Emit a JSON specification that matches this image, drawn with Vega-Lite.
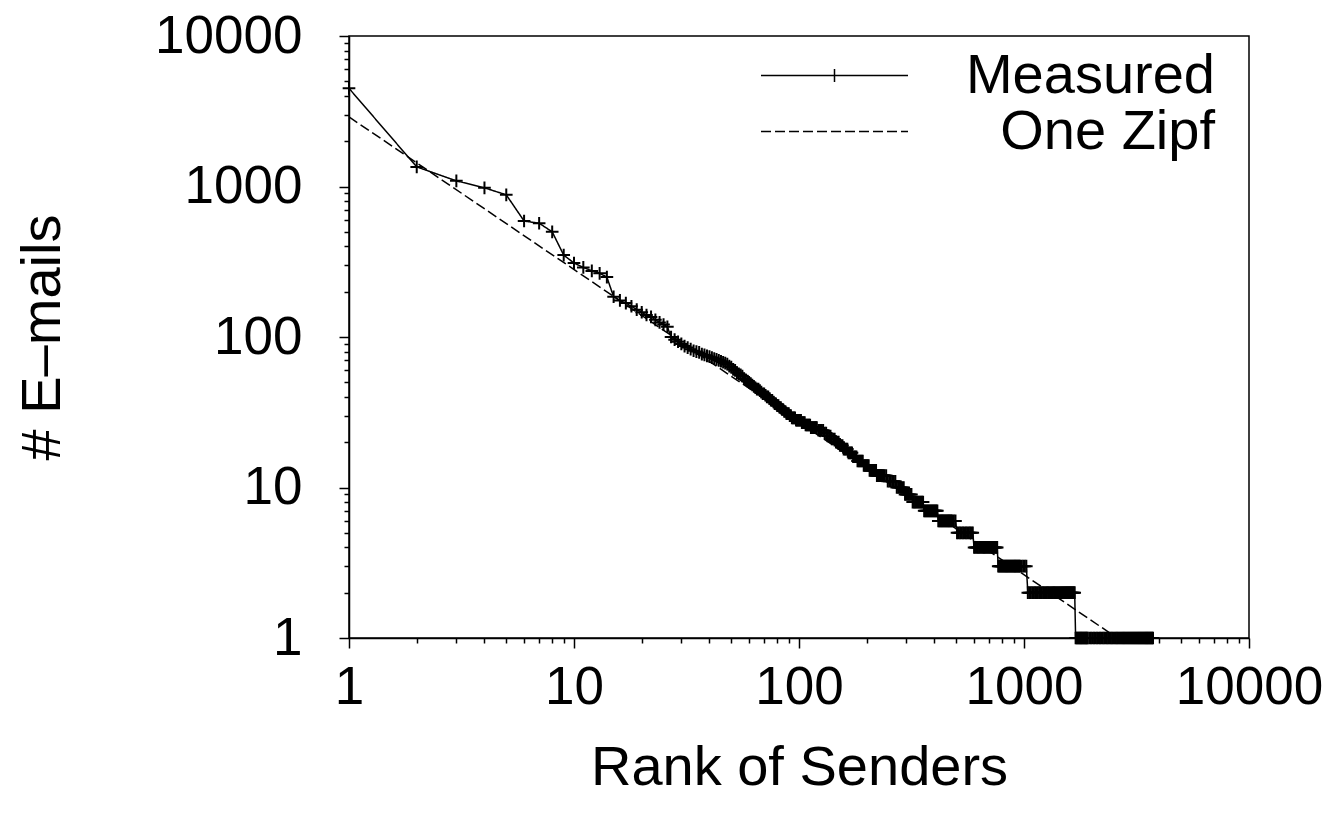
{
 "$schema": "https://vega.github.io/schema/vega-lite/v6.json",
 "width": 900, "height": 602,
 "autosize": "none",
 "padding": {"left": 349, "top": 36, "right": 92, "bottom": 178},
 "background": "white",
 "config": {
   "view": {"stroke": "black", "strokeWidth": 1.5},
   "font": "Liberation Sans",
   "axis": {"grid": false, "domainColor": "black", "domainWidth": 1.5, "tickColor": "black", "tickWidth": 1.5, "labelColor": "black", "labelFont": "Liberation Sans", "labelFontSize": 53, "titleFont": "Liberation Sans", "titleFontSize": 56, "titleFontWeight": "normal", "titleColor": "black", "labelFlush": false, "labelOverlap": false},
   "legend": {"orient": "none", "title": null, "symbolType": "stroke", "symbolSize": 21609, "symbolStrokeWidth": 1.5, "symbolStrokeColor": "black", "labelFontSize": 56, "labelFont": "Liberation Sans", "labelColor": "black", "labelAlign": "right", "labelOffset": 306, "labelLimit": 600, "padding": 0}
 },
 "resolve": {"scale": {"strokeDash": "independent"}, "legend": {"strokeDash": "independent"}},
 "datasets": {
  "zipf": [{"r":1,"v":2900},{"r":4000,"v":0.645}],
  "measured": [
   {"r":1,"v":4490},{"r":2,"v":1350},{"r":3,"v":1090},{"r":4,"v":980},{"r":5,"v":880},{"r":6,"v":590},{"r":7,"v":570},{"r":8,"v":500},{"r":9,"v":350},{"r":10,"v":310},
   {"r":11,"v":290},{"r":12,"v":275},{"r":13,"v":265},{"r":14,"v":250},{"r":15,"v":185},{"r":16,"v":175},{"r":17,"v":168},{"r":18,"v":160},{"r":19,"v":152},{"r":20,"v":146},
   {"r":21,"v":140},{"r":22,"v":136},{"r":23,"v":130},{"r":24,"v":125},{"r":25,"v":121},{"r":26,"v":117},{"r":27,"v":100},{"r":28,"v":96},{"r":29,"v":93},{"r":30,"v":90},
   {"r":31,"v":87},{"r":32,"v":85},{"r":33,"v":83},{"r":34,"v":81},{"r":35,"v":80},{"r":36,"v":79},{"r":37,"v":77},{"r":38,"v":76},{"r":39,"v":75},{"r":40,"v":74},
   {"r":41,"v":73},{"r":42,"v":72},{"r":43,"v":71},{"r":44,"v":70},{"r":45,"v":69},{"r":46,"v":68},{"r":47,"v":67},{"r":48,"v":66},{"r":49,"v":64},{"r":50,"v":63},
   {"r":51,"v":61},{"r":52,"v":60},{"r":53,"v":58},{"r":54,"v":57},{"r":55,"v":56},{"r":56,"v":55},{"r":57,"v":53},{"r":58,"v":52},{"r":59,"v":51},{"r":60,"v":50},
   {"r":61,"v":49},{"r":62,"v":48},{"r":63,"v":47},{"r":64,"v":46},{"r":65,"v":45},{"r":66,"v":45},{"r":67,"v":44},{"r":68,"v":43},{"r":69,"v":42},{"r":70,"v":42},
   {"r":71,"v":41},{"r":72,"v":40},{"r":73,"v":40},{"r":74,"v":39},{"r":75,"v":38},{"r":76,"v":38},{"r":77,"v":37},{"r":78,"v":36},{"r":79,"v":36},{"r":80,"v":35},
   {"r":81,"v":35},{"r":82,"v":34},{"r":83,"v":34},{"r":84,"v":33},{"r":85,"v":33},{"r":86,"v":32},{"r":87,"v":32},{"r":88,"v":31},{"r":89,"v":31},{"r":90,"v":31},
   {"r":91,"v":30},{"r":92,"v":30},{"r":93,"v":29},{"r":94,"v":29},{"r":95,"v":29},{"r":96,"v":29},{"r":97,"v":28},{"r":98,"v":28},{"r":99,"v":28},{"r":100,"v":28},
   {"r":101,"v":28},{"r":102,"v":28},{"r":103,"v":27},{"r":104,"v":27},{"r":105,"v":27},{"r":106,"v":27},{"r":107,"v":26},{"r":108,"v":26},{"r":109,"v":26},{"r":110,"v":26},
   {"r":111,"v":26},{"r":112,"v":26},{"r":113,"v":25},{"r":114,"v":25},{"r":115,"v":25},{"r":116,"v":25},{"r":117,"v":25},{"r":118,"v":25},{"r":119,"v":25},{"r":120,"v":25},
   {"r":122,"v":24},{"r":124,"v":24},{"r":126,"v":24},{"r":128,"v":24},{"r":130,"v":23},{"r":132,"v":23},{"r":134,"v":22},{"r":136,"v":22},{"r":138,"v":22},{"r":140,"v":21},
   {"r":142,"v":21},{"r":144,"v":21},{"r":146,"v":20},{"r":148,"v":20},{"r":150,"v":20},{"r":152,"v":19},{"r":154,"v":19},{"r":156,"v":19},{"r":158,"v":18},{"r":160,"v":18},
   {"r":162,"v":18},{"r":164,"v":18},{"r":166,"v":17},{"r":168,"v":17},{"r":170,"v":17},{"r":172,"v":17},{"r":174,"v":16},{"r":176,"v":16},{"r":178,"v":16},{"r":180,"v":16},
   {"r":182,"v":15},{"r":184,"v":15},{"r":186,"v":15},{"r":188,"v":15},{"r":190,"v":15},{"r":192,"v":15},{"r":194,"v":14},{"r":196,"v":14},{"r":198,"v":14},{"r":200,"v":14},
   {"r":202,"v":14},{"r":204,"v":14},{"r":206,"v":13},{"r":208,"v":13},{"r":210,"v":13},{"r":212,"v":13},{"r":214,"v":13},{"r":216,"v":13},{"r":218,"v":13},{"r":220,"v":13},
   {"r":222,"v":12},{"r":224,"v":12},{"r":226,"v":12},{"r":228,"v":12},{"r":230,"v":12},{"r":232,"v":12},{"r":234,"v":12},{"r":236,"v":12},{"r":238,"v":12},{"r":240,"v":12},
   {"r":244,"v":12},{"r":248,"v":11},{"r":252,"v":11},{"r":256,"v":11},{"r":260,"v":11},{"r":264,"v":11},{"r":268,"v":11},{"r":272,"v":10},{"r":276,"v":10},{"r":280,"v":10},
   {"r":284,"v":10},{"r":288,"v":10},{"r":292,"v":10},{"r":296,"v":9},{"r":300,"v":9},{"r":304,"v":9},{"r":308,"v":9},{"r":312,"v":9},{"r":316,"v":9},{"r":320,"v":8},
   {"r":324,"v":8},{"r":328,"v":8},{"r":332,"v":8},{"r":336,"v":8},{"r":340,"v":8},{"r":344,"v":8},{"r":348,"v":8},{"r":352,"v":8},{"r":356,"v":8},{"r":360,"v":7},
   {"r":364,"v":7},{"r":368,"v":7},{"r":372,"v":7},{"r":376,"v":7},{"r":380,"v":7},{"r":384,"v":7},{"r":388,"v":7},{"r":392,"v":7},{"r":396,"v":7},{"r":400,"v":7},
   {"r":404,"v":7},{"r":408,"v":7},{"r":412,"v":7},{"r":416,"v":6},{"r":420,"v":6},{"r":424,"v":6},{"r":428,"v":6},{"r":432,"v":6},{"r":436,"v":6},{"r":440,"v":6},
   {"r":444,"v":6},{"r":448,"v":6},{"r":452,"v":6},{"r":456,"v":6},{"r":460,"v":6},{"r":464,"v":6},{"r":468,"v":6},{"r":472,"v":6},{"r":476,"v":6},{"r":480,"v":6},
   {"r":488,"v":6},{"r":496,"v":6},{"r":504,"v":5},{"r":512,"v":5},{"r":520,"v":5},{"r":528,"v":5},{"r":536,"v":5},{"r":544,"v":5},{"r":552,"v":5},{"r":560,"v":5},
   {"r":568,"v":5},{"r":576,"v":5},{"r":584,"v":5},{"r":592,"v":5},{"r":600,"v":4},{"r":608,"v":4},{"r":616,"v":4},{"r":624,"v":4},{"r":632,"v":4},{"r":640,"v":4},
   {"r":648,"v":4},{"r":656,"v":4},{"r":664,"v":4},{"r":672,"v":4},{"r":680,"v":4},{"r":688,"v":4},{"r":696,"v":4},{"r":704,"v":4},{"r":712,"v":4},{"r":720,"v":4},
   {"r":728,"v":4},{"r":736,"v":4},{"r":744,"v":4},{"r":752,"v":4},{"r":760,"v":4},{"r":768,"v":3},{"r":776,"v":3},{"r":784,"v":3},{"r":792,"v":3},{"r":800,"v":3},
   {"r":808,"v":3},{"r":816,"v":3},{"r":824,"v":3},{"r":832,"v":3},{"r":840,"v":3},{"r":848,"v":3},{"r":856,"v":3},{"r":864,"v":3},{"r":872,"v":3},{"r":880,"v":3},
   {"r":888,"v":3},{"r":896,"v":3},{"r":904,"v":3},{"r":912,"v":3},{"r":920,"v":3},{"r":928,"v":3},{"r":936,"v":3},{"r":944,"v":3},{"r":952,"v":3},{"r":960,"v":3},
   {"r":976,"v":3},{"r":992,"v":3},{"r":1008,"v":3},{"r":1024,"v":3},{"r":1040,"v":2},{"r":1056,"v":2},{"r":1072,"v":2},{"r":1088,"v":2},{"r":1104,"v":2},{"r":1120,"v":2},
   {"r":1136,"v":2},{"r":1152,"v":2},{"r":1168,"v":2},{"r":1184,"v":2},{"r":1200,"v":2},{"r":1216,"v":2},{"r":1232,"v":2},{"r":1248,"v":2},{"r":1264,"v":2},{"r":1280,"v":2},
   {"r":1296,"v":2},{"r":1312,"v":2},{"r":1328,"v":2},{"r":1344,"v":2},{"r":1360,"v":2},{"r":1376,"v":2},{"r":1392,"v":2},{"r":1408,"v":2},{"r":1424,"v":2},{"r":1440,"v":2},
   {"r":1456,"v":2},{"r":1472,"v":2},{"r":1488,"v":2},{"r":1504,"v":2},{"r":1520,"v":2},{"r":1536,"v":2},{"r":1552,"v":2},{"r":1568,"v":2},{"r":1584,"v":2},{"r":1600,"v":2},
   {"r":1616,"v":2},{"r":1632,"v":2},{"r":1648,"v":2},{"r":1664,"v":2},{"r":1680,"v":2},{"r":1696,"v":1},{"r":1712,"v":1},{"r":1728,"v":1},{"r":1744,"v":1},{"r":1760,"v":1},
   {"r":1776,"v":1},{"r":1792,"v":1},{"r":1808,"v":1},{"r":1824,"v":1},{"r":1840,"v":1},{"r":1856,"v":1},{"r":1872,"v":1},{"r":1888,"v":1},{"r":1904,"v":1},{"r":1920,"v":1},
   {"r":1952,"v":1},{"r":1984,"v":1},{"r":2016,"v":1},{"r":2048,"v":1},{"r":2080,"v":1},{"r":2112,"v":1},{"r":2144,"v":1},{"r":2176,"v":1},{"r":2208,"v":1},{"r":2240,"v":1},
   {"r":2272,"v":1},{"r":2304,"v":1},{"r":2336,"v":1},{"r":2368,"v":1},{"r":2400,"v":1},{"r":2432,"v":1},{"r":2464,"v":1},{"r":2496,"v":1},{"r":2528,"v":1},{"r":2560,"v":1},
   {"r":2592,"v":1},{"r":2624,"v":1},{"r":2656,"v":1},{"r":2688,"v":1},{"r":2720,"v":1},{"r":2752,"v":1},{"r":2784,"v":1},{"r":2816,"v":1},{"r":2848,"v":1},{"r":2880,"v":1},
   {"r":2912,"v":1},{"r":2944,"v":1},{"r":2976,"v":1},{"r":3008,"v":1},{"r":3040,"v":1},{"r":3072,"v":1},{"r":3104,"v":1},{"r":3136,"v":1},{"r":3168,"v":1},{"r":3200,"v":1},
   {"r":3232,"v":1},{"r":3264,"v":1},{"r":3296,"v":1},{"r":3328,"v":1},{"r":3360,"v":1},{"r":3392,"v":1},{"r":3424,"v":1},{"r":3456,"v":1},{"r":3488,"v":1},{"r":3520,"v":1},
   {"r":3552,"v":1},{"r":3584,"v":1},{"r":3616,"v":1},{"r":3648,"v":1},{"r":3680,"v":1},{"r":3712,"v":1},{"r":3744,"v":1}
  ]
 },
 "layer": [
  {
   "data": {"name": "zipf"},
   "mark": {"type": "line", "clip": true, "strokeWidth": 1.5, "color": "black"},
   "encoding": {
     "x": {"field": "r", "type": "quantitative",
       "scale": {"type": "log", "domain": [1, 10000], "nice": false},
       "axis": {"title": "Rank of Senders",
         "values": [1,2,3,4,5,6,7,8,9,10,20,30,40,50,60,70,80,90,100,200,300,400,500,600,700,800,900,1000,2000,3000,4000,5000,6000,7000,8000,9000,10000],
         "labelExpr": "indexof([1,10,100,1000,10000], datum.value) >= 0 ? format(datum.value, 'd') : ''",
         "tickSize": {"condition": {"test": "indexof([1,10,100,1000,10000], datum.value) >= 0", "value": 10}, "value": 5},
         "labelPadding": 13, "titlePadding": 26}},
     "y": {"field": "v", "type": "quantitative",
       "scale": {"type": "log", "domain": [1, 10000], "nice": false},
       "axis": {"title": "# E–mails",
         "values": [1,2,3,4,5,6,7,8,9,10,20,30,40,50,60,70,80,90,100,200,300,400,500,600,700,800,900,1000,2000,3000,4000,5000,6000,7000,8000,9000,10000],
         "labelExpr": "indexof([1,10,100,1000,10000], datum.value) >= 0 ? format(datum.value, 'd') : ''",
         "tickSize": {"condition": {"test": "indexof([1,10,100,1000,10000], datum.value) >= 0", "value": 10}, "value": 5},
         "labelPadding": 37, "titlePadding": 83}},
     "strokeDash": {"datum": "One Zipf", "type": "nominal",
       "scale": {"domain": ["One Zipf"], "range": [[10, 4]]},
       "legend": {"legendX": 411, "legendY": 21, "symbolType": "stroke"}}
   }
  },
  {
   "data": {"name": "measured"},
   "mark": {"type": "line", "strokeWidth": 1.5, "color": "black"},
   "encoding": {
     "x": {"field": "r", "type": "quantitative"},
     "y": {"field": "v", "type": "quantitative"},
     "strokeDash": {"datum": "Measured", "type": "nominal",
       "scale": {"domain": ["Measured"], "range": [[1, 0]]},
       "legend": {"legendX": 411, "legendY": -35, "symbolType": "M-1,0H1M0,-0.09V0.09"}}
   }
  },
  {
   "data": {"name": "measured"},
   "mark": {"type": "point", "shape": "M-1,0H1M0,-1V1", "size": 160, "filled": false, "stroke": "black", "strokeWidth": 2, "opacity": 1},
   "encoding": {
     "x": {"field": "r", "type": "quantitative"},
     "y": {"field": "v", "type": "quantitative"}
   }
  }
 ]
}
